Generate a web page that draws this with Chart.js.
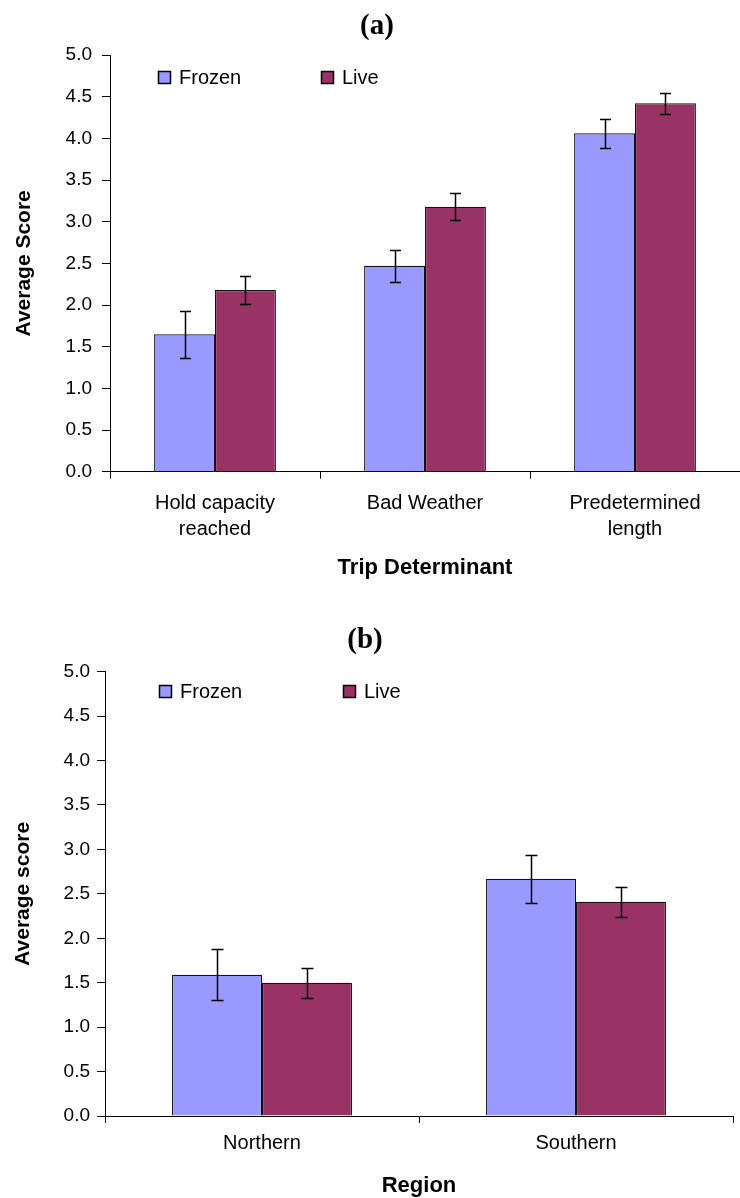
<!DOCTYPE html>
<html>
<head>
<meta charset="utf-8">
<script src="https://cdn.jsdelivr.net/npm/chart.js@4.4.1/dist/chart.umd.min.js"></script>
<style>
  html, body { margin: 0; padding: 0; background: #fff; }
  canvas { display: block; }
</style>
</head>
<body>
<canvas id="chartA" width="740" height="600"></canvas>
<canvas id="chartB" width="740" height="598"></canvas>
<script>
// ---- Panel (a): what determines the end of a trip ----
const tripCategories = [['Hold capacity', 'reached'], 'Bad Weather', ['Predetermined', 'length']];
const tripFrozen = [1.65, 2.47, 4.06];
const tripFrozenErr = [0.28, 0.195, 0.175];
const tripLive = [2.18, 3.18, 4.42];
const tripLiveErr = [0.17, 0.165, 0.125];

// ---- Panel (b): scores by region ----
const regionCategories = ['Northern', 'Southern'];
const regionFrozen = [1.59, 2.67];
const regionFrozenErr = [0.29, 0.27];
const regionLive = [1.50, 2.41];
const regionLiveErr = [0.17, 0.165];

// shared
const seriesNames = ['Frozen', 'Live'];
const seriesColors = ['#9999FF', '#993366'];
const yMin = 0, yMax = 5, yStep = 0.5;

const SANS = "'Liberation Sans', Arial, Helvetica, sans-serif";
const SERIF = "'Liberation Serif', 'Times New Roman', serif";

// Vertical +/- error bars with caps, drawn on top of each bar
const errorBars = {
  id: 'errorBars',
  afterDatasetsDraw(chart, args, opts) {
    const { ctx } = chart;
    const yScale = chart.scales.y;
    ctx.save();
    ctx.strokeStyle = opts.color || '#000';
    ctx.lineWidth = opts.width || 1.5;
    chart.data.datasets.forEach((ds, i) => {
      const meta = chart.getDatasetMeta(i);
      if (meta.hidden || !ds.errors) return;
      meta.data.forEach((bar, j) => {
        const v = ds.data[j], e = ds.errors[j];
        const x = Math.round(bar.x) + 0.5;
        const top = Math.round(yScale.getPixelForValue(v + e)) + 0.5;
        const bot = Math.round(yScale.getPixelForValue(v - e)) + 0.5;
        const c = opts.cap || 5;
        ctx.beginPath();
        ctx.moveTo(x, top); ctx.lineTo(x, bot);
        ctx.moveTo(x - c, top); ctx.lineTo(x + c, top);
        ctx.moveTo(x - c, bot); ctx.lineTo(x + c, bot);
        ctx.stroke();
      });
    });
    ctx.restore();
  }
};

// Legend of square swatches placed inside the plot area
const boxLegend = {
  id: 'boxLegend',
  afterDraw(chart, args, opts) {
    const { ctx, chartArea } = chart;
    ctx.save();
    ctx.font = opts.font;
    ctx.textBaseline = 'middle';
    ctx.textAlign = 'left';
    chart.data.datasets.forEach((ds, i) => {
      const x = Math.round(chartArea.left + opts.offsets[i]);
      const y = Math.round(chartArea.top + opts.top);
      const s = opts.box;
      ctx.fillStyle = ds.backgroundColor;
      ctx.fillRect(x, y, s, s);
      ctx.strokeStyle = '#000';
      ctx.lineWidth = 1.5;
      ctx.strokeRect(x + 0.5, y + 0.5, s - 1, s - 1);
      ctx.fillStyle = '#000';
      ctx.fillText(ds.label, x + s + opts.gap, y + s / 2 + 1);
    });
    ctx.restore();
  }
};

// Panel letter above each chart
const panelLabel = {
  id: 'panelLabel',
  afterDraw(chart, args, opts) {
    const { ctx } = chart;
    ctx.save();
    ctx.font = opts.font;
    ctx.fillStyle = '#000';
    ctx.textAlign = 'center';
    ctx.textBaseline = 'middle';
    ctx.fillText(opts.text, opts.x, opts.y);
    ctx.restore();
  }
};

function buildChart(canvasId, p) {
  const datasets = [
    { label: seriesNames[0], data: p.frozen, errors: p.frozenErr },
    { label: seriesNames[1], data: p.live, errors: p.liveErr }
  ].map((d, i) => Object.assign(d, {
    backgroundColor: seriesColors[i],
    borderColor: '#111',
    borderWidth: 1.2,
    barPercentage: 1,
    categoryPercentage: p.groupWidth
  }));

  return new Chart(document.getElementById(canvasId), {
    type: 'bar',
    data: { labels: p.categories, datasets },
    plugins: [errorBars, boxLegend, panelLabel],
    options: {
      responsive: false,
      animation: false,
      events: [],
      layout: { padding: { top: p.padTop, right: p.padRight, bottom: 0, left: 0 } },
      plugins: {
        legend: { display: false },
        title: { display: false },
        tooltip: { enabled: false },
        errorBars: { color: '#000', width: 1.5, cap: p.cap },
        boxLegend: { font: '20px ' + SANS, offsets: p.legendOffsets, top: p.legendTop, box: 13, gap: 8 },
        panelLabel: { text: p.panel, font: 'bold 29px ' + SERIF, x: p.panelX, y: p.panelY }
      },
      scales: {
        x: {
          ticks: {
            color: '#000',
            font: { size: 20, family: SANS, lineHeight: 1.3 },
            padding: p.xTickPad,
            maxRotation: 0,
            autoSkip: false
          },
          grid: { offset: true, drawOnChartArea: false, drawTicks: true, tickLength: 7, color: '#000', lineWidth: 1 },
          border: { display: true, color: '#000', width: 1 },
          title: {
            display: true, text: p.xTitle, color: '#000',
            font: { size: 22, weight: 'bold', family: SANS, lineHeight: 1 },
            padding: { top: 0, bottom: p.xTitlePad }
          },
          afterFit(scale) { scale.height = p.xHeight; }
        },
        y: {
          min: yMin, max: yMax,
          ticks: {
            stepSize: yStep,
            color: '#000',
            font: { size: 19, family: SANS },
            padding: p.yTickPad,
            callback: v => Number(v).toFixed(1)
          },
          grid: { drawOnChartArea: false, drawTicks: true, tickLength: 8, color: '#000', lineWidth: 1 },
          border: { display: true, color: '#000', width: 1 },
          title: {
            display: true, text: p.yTitle, color: '#000',
            font: { size: 21, weight: 'bold', family: SANS, lineHeight: 1.2 },
            padding: { top: p.yTitlePad, bottom: 0 }
          },
          afterFit(scale) { scale.width = p.yWidth; }
        }
      }
    }
  });
}

buildChart('chartA', {
  categories: tripCategories,
  frozen: tripFrozen, frozenErr: tripFrozenErr,
  live: tripLive, liveErr: tripLiveErr,
  groupWidth: 0.58,
  padTop: 55, padRight: 0,
  yWidth: 110, xHeight: 128.3,
  xTickPad: 12, yTickPad: 10,
  xTitle: 'Trip Determinant', xTitlePad: 21,
  yTitle: 'Average Score', yTitlePad: 11.5,
  cap: 5.5,
  legendOffsets: [48, 211], legendTop: 15.7,
  panel: '(a)', panelX: 377, panelY: 27
});

buildChart('chartB', {
  categories: regionCategories,
  frozen: regionFrozen, frozenErr: regionFrozenErr,
  live: regionLive, liveErr: regionLiveErr,
  groupWidth: 0.573,
  padTop: 71.7, padRight: 7,
  yWidth: 105, xHeight: 82,
  xTickPad: 7, yTickPad: 7,
  xTitle: 'Region', xTitlePad: 0.7,
  yTitle: 'Average score', yTitlePad: 10.5,
  cap: 6,
  legendOffsets: [54, 238], legendTop: 13.3,
  panel: '(b)', panelX: 365, panelY: 41
});
</script>
</body>
</html>
